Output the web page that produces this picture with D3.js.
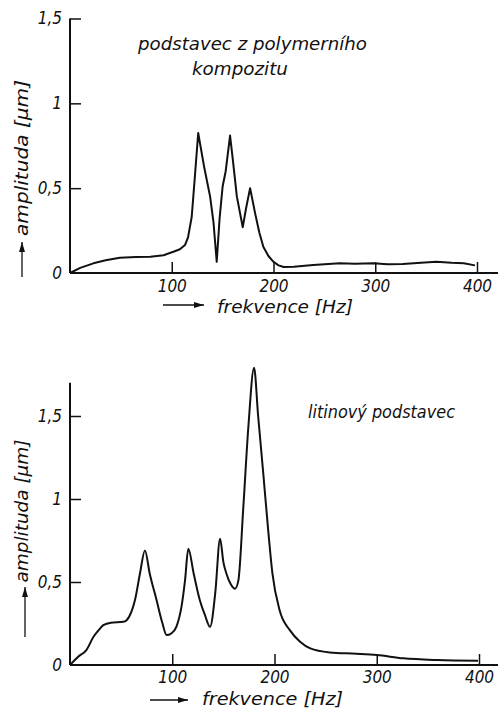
<!DOCTYPE html>
<html>
<head>
<meta charset="utf-8">
<script src="https://cdn.jsdelivr.net/npm/d3@7"></script>
<style>
  body { margin: 0; background: #fff; }
  svg text { font-family: "DejaVu Sans Condensed", "Liberation Sans", sans-serif; font-style: italic; fill: #111; }
</style>
</head>
<body>
<svg id="chart" width="498" height="708"></svg>
<script>
// polymer composite stand (top)
const topFreq = [0, 10, 23, 35, 49, 65, 79, 92, 101.6, 108, 113, 116, 119.6, 122.5, 126, 132, 137.7, 141, 144.2, 147, 150, 153, 157.3, 160, 164, 169.8, 173, 177, 182, 186, 190, 195, 200, 205, 210, 220, 239, 265, 280, 298, 312, 327, 345, 360, 375, 387, 398];
const topAmp = [0, 0.03, 0.057, 0.075, 0.09, 0.095, 0.096, 0.105, 0.125, 0.14, 0.165, 0.21, 0.33, 0.55, 0.825, 0.62, 0.45, 0.3, 0.066, 0.32, 0.51, 0.6, 0.81, 0.67, 0.45, 0.27, 0.38, 0.5, 0.35, 0.24, 0.155, 0.1, 0.066, 0.045, 0.035, 0.037, 0.047, 0.057, 0.054, 0.057, 0.052, 0.053, 0.06, 0.066, 0.06, 0.057, 0.045];

// cast iron stand (bottom)
const botFreq = [0, 8, 16, 23, 28, 32.6, 40, 52, 55.4, 60, 63.5, 68.4, 73.3, 78, 84.7, 90, 94.5, 99, 104, 109, 112.5, 115.7, 121, 127, 132, 137, 142, 146.8, 150, 153, 157, 161.4, 164.7, 169.5, 174.5, 180, 184, 189, 194, 198, 205, 215, 225, 235, 254, 280, 300, 326, 359, 399];
const botAmp = [0, 0.05, 0.09, 0.17, 0.21, 0.24, 0.255, 0.26, 0.27, 0.32, 0.39, 0.55, 0.69, 0.55, 0.39, 0.26, 0.18, 0.19, 0.23, 0.35, 0.51, 0.7, 0.55, 0.39, 0.3, 0.23, 0.43, 0.76, 0.62, 0.55, 0.49, 0.46, 0.51, 0.95, 1.44, 1.79, 1.5, 1.155, 0.8, 0.55, 0.33, 0.21, 0.14, 0.1, 0.076, 0.068, 0.06, 0.04, 0.03, 0.026];

const xTicks = [100, 200, 300, 400];
const topYTicks = [0, 0.5, 1, 1.5];
const botYTicks = [0, 0.5, 1, 1.5];

const yLabel = "amplituda [μm]";
const xLabel = "frekvence [Hz]";
const topTitle = ["podstavec z polymerního", "kompozitu"];
const botTitle = "litinový podstavec";

const svg = d3.select("#chart");
const fmt = d => String(d).replace(".", ",");

svg.append("defs").append("marker")
    .attr("id", "arrow")
    .attr("viewBox", "0 0 10 6")
    .attr("refX", 10).attr("refY", 3)
    .attr("markerWidth", 10).attr("markerHeight", 6)
    .attr("markerUnits", "userSpaceOnUse")
    .attr("orient", "auto")
    .append("path").attr("d", "M0,0 L10,3 L0,6 Z").attr("fill", "#111");

function drawPanel(opt) {
    const x = d3.scaleLinear().domain([0, 400]).range(opt.xRange);
    const y = d3.scaleLinear().domain([0, opt.yMax]).range(opt.yRange);
    const g = svg.append("g");

    // x axis
    const xa = g.append("g")
        .attr("transform", `translate(0,${y(0)})`)
        .call(d3.axisBottom(x).tickValues(xTicks).tickSize(-11).tickPadding(opt.xPad).tickFormat(fmt));
    xa.select(".domain").remove();
    g.append("line")
        .attr("x1", x(0)).attr("x2", 498)
        .attr("y1", y(0)).attr("y2", y(0))
        .attr("stroke", "#111").attr("stroke-width", 2);

    // y axis
    const ya = g.append("g")
        .attr("transform", `translate(${x(0)},0)`)
        .call(d3.axisLeft(y).tickValues(opt.yTicks).tickSize(-11).tickPadding(8).tickFormat(fmt));
    ya.select(".domain").remove();
    g.append("line")
        .attr("x1", x(0)).attr("x2", x(0))
        .attr("y1", y(0)).attr("y2", y(opt.yTop))
        .attr("stroke", "#111").attr("stroke-width", 2);

    g.selectAll(".tick line").attr("stroke", "#111").attr("stroke-width", 1.5);
    g.selectAll(".tick text").attr("font-size", 17).attr("fill", "#111")
        .style("font-family", '"DejaVu Sans Condensed", "Liberation Sans", sans-serif');
    ya.selectAll(".tick").filter(d => d === 0).select("line").remove();

    // curve
    const pts = opt.freq.map((f, i) => [f, opt.amp[i]]);
    g.append("path")
        .datum(pts)
        .attr("fill", "none")
        .attr("stroke", "#111")
        .attr("stroke-width", 2)
        .attr("stroke-linejoin", "round")
        .attr("d", d3.line().x(d => x(d[0])).y(d => y(d[1])).curve(opt.curve));

    // y label with arrow
    g.append("text")
        .attr("transform", `translate(28,${opt.yLabelMid}) rotate(-90)`)
        .attr("text-anchor", "middle")
        .attr("font-size", 17)
        .attr("textLength", opt.yLabelLen)
        .attr("lengthAdjust", "spacingAndGlyphs")
        .text(yLabel);
    g.append("line")
        .attr("x1", opt.yArrow[0]).attr("x2", opt.yArrow[0])
        .attr("y1", opt.yArrow[2]).attr("y2", opt.yArrow[1])
        .attr("stroke", "#111").attr("stroke-width", 1.3)
        .attr("marker-end", "url(#arrow)");

    // x label with arrow
    g.append("line")
        .attr("x1", opt.xArrow[0]).attr("x2", opt.xArrow[1])
        .attr("y1", opt.xArrow[2]).attr("y2", opt.xArrow[2])
        .attr("stroke", "#111").attr("stroke-width", 1.3)
        .attr("marker-end", "url(#arrow)");
    g.append("text")
        .attr("x", opt.xLabel[0]).attr("y", opt.xLabel[1])
        .attr("font-size", 18)
        .attr("textLength", opt.xLabel[2])
        .attr("lengthAdjust", "spacingAndGlyphs")
        .text(xLabel);

    // titles
    opt.titles.forEach(t => {
        g.append("text")
            .attr("x", t[1]).attr("y", t[2])
            .attr("font-size", 17)
            .attr("textLength", t[3])
            .attr("lengthAdjust", "spacingAndGlyphs")
            .text(t[0]);
    });
}

drawPanel({
    freq: topFreq, amp: topAmp, curve: d3.curveLinear,
    xRange: [70, 477], yRange: [273, 18.5], yMax: 1.5, yTop: 1.5,
    yTicks: topYTicks, xPad: 7,
    yLabelMid: 158, yLabelLen: 156, yArrow: [22, 242, 277],
    xArrow: [163, 204, 305], xLabel: [217, 313, 136],
    titles: [[topTitle[0], 138, 50, 229], [topTitle[1], 192, 75, 96]]
});

drawPanel({
    freq: botFreq, amp: botAmp, curve: d3.curveMonotoneX,
    xRange: [70, 479], yRange: [665, 416], yMax: 1.5, yTop: 1.7,
    yTicks: botYTicks, xPad: 6,
    yLabelMid: 511, yLabelLen: 143, yArrow: [25, 587, 637],
    xArrow: [150, 188, 700], xLabel: [202, 705, 141],
    titles: [[botTitle, 308, 418, 147]]
});
</script>
</body>
</html>
